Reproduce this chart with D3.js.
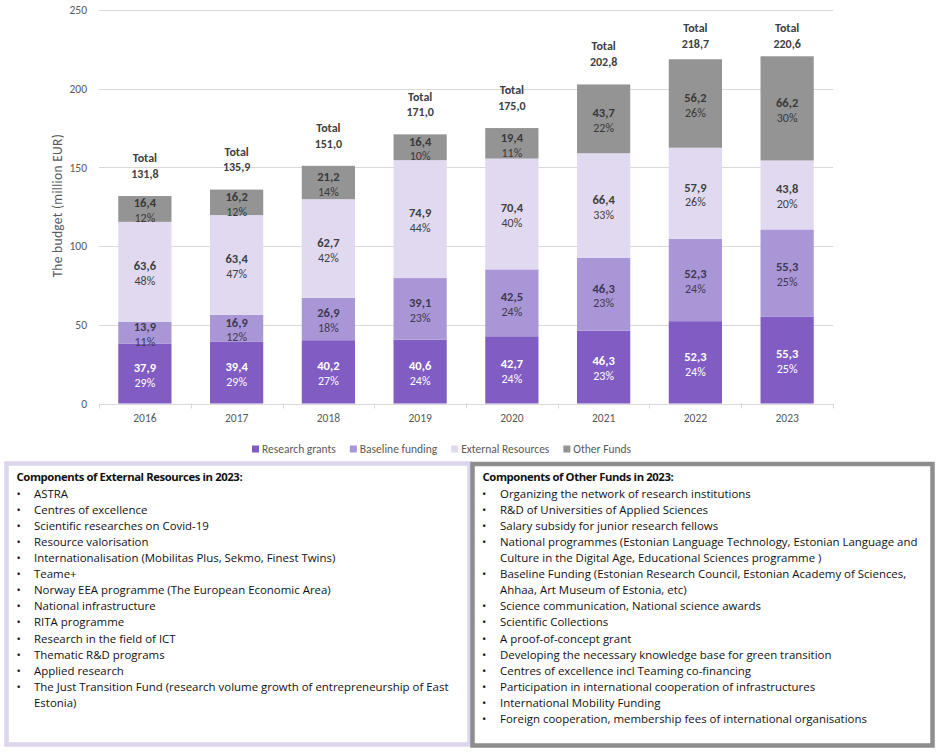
<!DOCTYPE html>
<html>
<head>
<meta charset="utf-8">
<script src="https://cdn.jsdelivr.net/npm/d3@7"></script>
<style>
html,body{margin:0;padding:0;background:#fff;}
svg{display:block;}
</style>
</head>
<body>
<script>
// ---------- DATA ----------
const years = ["2016","2017","2018","2019","2020","2021","2022","2023"];
const seriesNames = ["Research grants","Baseline funding","External Resources","Other Funds"];
const researchGrants    = [37.9, 39.4, 40.2, 40.6, 42.7, 46.3, 52.3, 55.3];
const baselineFunding   = [13.9, 16.9, 26.9, 39.1, 42.5, 46.3, 52.3, 55.3];
const externalResources = [63.6, 63.4, 62.7, 74.9, 70.4, 66.4, 57.9, 43.8];
const otherFunds        = [16.4, 16.2, 21.2, 16.4, 19.4, 43.7, 56.2, 66.2];
const pctResearch  = [29, 29, 27, 24, 24, 23, 24, 25];
const pctBaseline  = [11, 12, 18, 23, 24, 23, 24, 25];
const pctExternal  = [48, 47, 42, 44, 40, 33, 26, 20];
const pctOther     = [12, 12, 14, 10, 11, 22, 26, 30];
const totals = [131.8, 135.9, 151.0, 171.0, 175.0, 202.8, 218.7, 220.6];
const yTicks = [0, 50, 100, 150, 200, 250];
const yTitle = "The budget (million EUR)";

const externalTitle = "Components of External Resources in 2023:";
const externalItems = [
  ["ASTRA"],
  ["Centres of excellence"],
  ["Scientific researches on Covid-19"],
  ["Resource valorisation"],
  ["Internationalisation (Mobilitas Plus, Sekmo, Finest Twins)"],
  ["Teame+"],
  ["Norway EEA programme (The European Economic Area)"],
  ["National infrastructure"],
  ["RITA programme"],
  ["Research in the field of ICT"],
  ["Thematic R&D programs"],
  ["Applied research"],
  ["The Just Transition Fund (research volume growth of entrepreneurship of East", "Estonia)"]
];
const otherTitle = "Components of Other Funds in 2023:";
const otherItems = [
  ["Organizing the network of research institutions"],
  ["R&D of Universities of Applied Sciences"],
  ["Salary subsidy for junior research fellows"],
  ["National programmes (Estonian Language Technology, Estonian Language and", "Culture in the Digital Age, Educational Sciences programme )"],
  ["Baseline Funding (Estonian Research Council, Estonian Academy of Sciences,", "Ahhaa,  Art Museum of Estonia, etc)"],
  ["Science communication, National science awards"],
  ["Scientific Collections"],
  ["A proof-of-concept grant"],
  ["Developing the necessary knowledge base for green transition"],
  ["Centres of excellence incl Teaming co-financing"],
  ["Participation in international cooperation of infrastructures"],
  ["International Mobility Funding"],
  ["Foreign cooperation, membership fees of international organisations"]
];

// ---------- STYLE ----------
const W = 943, H = 753;
const FONT = "Carlito, Calibri, Lato, 'Open Sans', sans-serif";
const BOXFONT = "'Open Sans', sans-serif";
const colors = ["#805cc3", "#a996d6", "#e0d9f0", "#949494"];
const labelColors = ["#ffffff", "#3f3852", "#404040", "#3a3a3a"];
const axisTextColor = "#595959";
const gridColor = "#d9d9d9";

const svg = d3.select("body").append("svg")
  .attr("width", W).attr("height", H)
  .style("font-family", FONT);
svg.append("rect").attr("width", W).attr("height", H).attr("fill", "#fff");

const x = d3.scaleBand().domain(years).range([99, 833]).paddingInner(0.42).paddingOuter(0.21);
const y = d3.scaleLinear().domain([0, 250]).range([403.5, 10]);

const fmt = v => d3.format(".1f")(v).replace(".", ",");

// grid
svg.append("g").selectAll("line").data(yTicks.filter(t => t > 0)).join("line")
  .attr("x1", 99).attr("x2", 833)
  .attr("y1", d => Math.round(y(d)) + 0.5).attr("y2", d => Math.round(y(d)) + 0.5)
  .attr("stroke", gridColor).attr("stroke-width", 1);

// y axis labels
const yAxis = d3.axisLeft(y).tickValues(yTicks).tickSize(0).tickPadding(12);
const gy = svg.append("g").attr("transform", "translate(99,0)").call(yAxis);
gy.select(".domain").remove();
gy.selectAll("text").attr("font-family", FONT).attr("font-size", 11.5).attr("fill", axisTextColor);

// y title
svg.append("text")
  .attr("transform", `translate(62,${(y(0) + y(250)) / 2 - 1}) rotate(-90)`)
  .attr("text-anchor", "middle")
  .attr("font-size", 13.5).attr("letter-spacing", 0.3).attr("fill", axisTextColor)
  .text(yTitle);

// stacked bars
const rows = years.map((yr, i) => ({
  year: yr,
  s0: researchGrants[i], s1: baselineFunding[i], s2: externalResources[i], s3: otherFunds[i],
  p0: pctResearch[i], p1: pctBaseline[i], p2: pctExternal[i], p3: pctOther[i]
}));
const stack = d3.stack().keys(["s0", "s1", "s2", "s3"]);
const stacked = stack(rows);

const layers = svg.append("g").selectAll("g").data(stacked).join("g")
  .attr("fill", (d, i) => colors[i]);
layers.selectAll("rect").data(d => d).join("rect")
  .attr("x", d => x(d.data.year))
  .attr("width", x.bandwidth())
  .attr("y", d => y(d[1]))
  .attr("height", d => y(d[0]) - y(d[1]));

// x axis
const xAxis = d3.axisBottom(x).tickSize(0).tickPadding(10);
const gx = svg.append("g").attr("transform", `translate(0,${y(0)})`).call(xAxis);
gx.select(".domain").remove();
gx.selectAll("text").attr("font-family", FONT).attr("font-size", 11.5).attr("fill", axisTextColor);
svg.append("line").attr("x1", 99).attr("x2", 833).attr("y1", Math.round(y(0)) + 0.5).attr("y2", Math.round(y(0)) + 0.5)
  .attr("stroke", gridColor);
const edges = years.map(yr => x(yr) - x.step() * x.paddingInner() / 2).concat([833]);
edges[0] = 99;
svg.append("g").selectAll("line").data(edges).join("line")
  .attr("x1", d => Math.round(d) + 0.5).attr("x2", d => Math.round(d) + 0.5)
  .attr("y1", y(0)).attr("y2", y(0) + 5)
  .attr("stroke", gridColor);

// segment labels
stacked.forEach((layer, li) => {
  const g = svg.append("g").attr("fill", labelColors[li]).attr("text-anchor", "middle");
  layer.forEach(d => {
    const cx = x(d.data.year) + x.bandwidth() / 2;
    const cy = (y(d[0]) + y(d[1])) / 2;
    g.append("text").attr("x", cx).attr("y", cy - 6).attr("dy", "0.35em")
      .attr("font-size", 12.5).attr("font-weight", "bold").text(fmt(d.data["s" + li]));
    g.append("text").attr("x", cx).attr("y", cy + 9).attr("dy", "0.35em")
      .attr("font-size", 12).text(d.data["p" + li] + "%");
  });
});

// totals
const tg = svg.append("g").attr("fill", "#404040").attr("text-anchor", "middle").attr("font-weight", "bold").attr("font-size", 12);
years.forEach((yr, i) => {
  const cx = x(yr) + x.bandwidth() / 2;
  const top = y(totals[i]);
  const t1 = Math.max(top - 38, 28);
  tg.append("text").attr("x", cx).attr("y", t1).attr("dy", "0.35em").text("Total");
  tg.append("text").attr("x", cx).attr("y", t1 + 15.5).attr("dy", "0.35em").text(fmt(totals[i]));
});

// legend
const lg = svg.append("g").attr("font-size", 11.5).attr("fill", axisTextColor);
let lx = 252;
seriesNames.forEach((name, i) => {
  lg.append("rect").attr("x", lx).attr("y", 445.5).attr("width", 7).attr("height", 7).attr("fill", colors[i]);
  const t = lg.append("text").attr("x", lx + 10).attr("y", 449).attr("dy", "0.35em").text(name);
  lx += 10 + t.node().getComputedTextLength() + 14;
});

// boxes
function drawBox(bx, by, bw, bh, stroke, title, items, textX, bulletX) {
  svg.append("rect").attr("x", bx).attr("y", by).attr("width", bw).attr("height", bh)
    .attr("fill", "#fff").attr("stroke", stroke).attr("stroke-width", 4.5);
  const g = svg.append("g").attr("font-family", BOXFONT).attr("font-size", 11.45).attr("fill", "#111");
  let ly = 477.5;
  g.append("text").attr("x", bx + 10).attr("y", ly).attr("dy", "0.35em").attr("font-weight", "bold")
    .attr("font-size", 11.3).attr("letter-spacing", -0.4).text(title);
  items.forEach(lines => {
    lines.forEach((ln, k) => {
      ly += 16.1;
      if (k === 0) g.append("text").attr("x", bulletX).attr("y", ly).attr("dy", "0.35em").text("•");
      g.append("text").attr("x", textX).attr("y", ly).attr("dy", "0.35em").text(ln);
    });
  });
}
drawBox(6.5, 463.5, 463, 281, "#dcd5ec", externalTitle, externalItems, 34, 16.5);
drawBox(472.5, 464, 460, 281.5, "#8d8d8d", otherTitle, otherItems, 500, 482);
</script>
</body>
</html>
